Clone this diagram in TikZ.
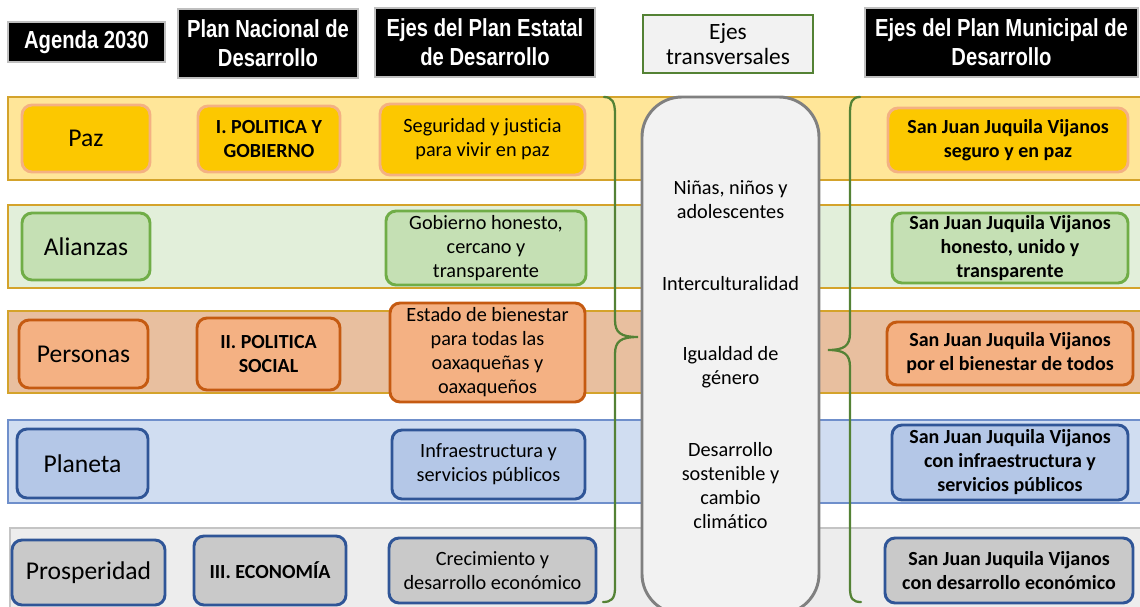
\documentclass[tikz,border=0pt]{standalone}
\usepackage{fontspec}
\setmainfont[Ligatures={NoCommon}]{Carlito}
\newfontfamily\hdrfont[FakeStretch=0.82]{Liberation Sans}
\definecolor{hdrline}{HTML}{BFBFBF}
\definecolor{bandline}{HTML}{D4A32B}
\definecolor{bandYf}{HTML}{FFE699}
\definecolor{boxYf}{HTML}{FCC800}
\definecolor{boxYd}{HTML}{F4B183}
\definecolor{bandGf}{HTML}{E2EFDA}
\definecolor{boxGf}{HTML}{C5E0B4}
\definecolor{boxGd}{HTML}{70AD47}
\definecolor{bandOf}{HTML}{E8BF9F}
\definecolor{boxOf}{HTML}{F4B183}
\definecolor{boxOd}{HTML}{C55A11}
\definecolor{bandBf}{HTML}{D0DDF1}
\definecolor{bandBd}{HTML}{6F8FCB}
\definecolor{boxBf}{HTML}{B4C7E7}
\definecolor{boxBd}{HTML}{2F5597}
\definecolor{bandKf}{HTML}{EDEDED}
\definecolor{bandKd}{HTML}{C4C4C4}
\definecolor{boxKf}{HTML}{C9C9C9}
\definecolor{centf}{HTML}{F2F2F2}
\definecolor{centd}{HTML}{808080}
\definecolor{bracec}{HTML}{548235}
\tikzset{
  wh/.style 2 args={minimum width=#1*0.75pt, minimum height=#2*0.75pt},
  hdr/.style={fill=black, draw=hdrline, line width=1.6pt, text=white, inner sep=0pt, align=center,
    font=\hdrfont\bfseries\fontsize{18.5}{21.7}\selectfont},
  box/.style={rounded corners=7.5pt, line width=2.2pt, inner sep=0pt, align=center,
    font=\fontsize{15.2}{18}\selectfont},
  lbl/.style={box, font=\fontsize{19.2}{22}\selectfont},
  bld/.style={box, font=\bfseries\fontsize{15}{18}\selectfont},
  yel/.style={fill=boxYf, draw=boxYd},
  grn/.style={fill=boxGf, draw=boxGd},
  org/.style={fill=boxOf, draw=boxOd},
  blu/.style={fill=boxBf, draw=boxBd},
  gry/.style={fill=boxKf, draw=boxBd},
  band/.style={line width=0.9pt},
  ctext/.style={inner sep=0pt, align=center, font=\fontsize{15.2}{18}\selectfont},
  bracepath/.style={draw=bracec, line width=1.7pt, line cap=round}
}
\begin{document}
\begin{tikzpicture}[x=0.75pt,y=-0.75pt]
\useasboundingbox (0,0) rectangle (1140,607);
\begin{scope}
\clip (0,0) rectangle (1140,607);
% bands
\path[band, fill=bandYf, draw=bandline] (8,97) rectangle (1150,180);
\path[band, fill=bandGf, draw=bandline] (8,205) rectangle (1150,288);
\path[band, fill=bandOf, draw=bandline] (8,311) rectangle (1150,393);
\path[band, fill=bandBf, draw=bandBd] (8,420) rectangle (1150,503);
\path[band, fill=bandKf, draw=bandKd] (10,528) rectangle (1150,620);
% central column
\node[fill=centf, draw=centd, line width=2.2pt, rounded corners=30pt, wh={177}{517}, inner sep=0pt] (ejes) at (730.5,355.5) {};
\end{scope}

% headers
\node[hdr, wh={157}{40}] (h1) at (86.5,42) {Agenda 2030};
\node[hdr, wh={180}{69}] (h2) at (268,43.5) {Plan Nacional de\\Desarrollo};
\node[hdr, wh={220}{69}] (h3) at (485,42.5) {Ejes del Plan Estatal\\de Desarrollo};
\node[fill=centf, draw=bracec, line width=1.8pt, inner sep=0pt, align=center, wh={170}{58},
  font=\fontsize{17.5}{19}\selectfont] (h4) at (728,44) {Ejes\\transversales};
\node[hdr, wh={273}{69}] (h5) at (1001.5,42.5) {Ejes del Plan Municipal de\\Desarrollo};

% row 1
\node[lbl, yel, wh={128}{67}] (paz) at (86,138.5) {Paz};
\node[bld, yel, wh={142}{66}] (pnd1) at (269,139) {I. POLITICA Y\\GOBIERNO};
\node[box, yel, wh={205}{71}] (pe1) at (482.5,139.5) {Seguridad y justicia\\para vivir en paz};
\node[bld, yel, wh={240}{64}] (pm1) at (1008,140) {San Juan Juquila Vijanos\\seguro y en paz};
% row 2
\node[lbl, grn, wh={128}{67}] (ali) at (86,246.5) {Alianzas};
\node[box, grn, wh={200}{74}] (pe2) at (486,248) {Gobierno honesto,\\cercano y\\transparente};
\node[bld, grn, wh={236}{70}] (pm2) at (1010,248) {San Juan Juquila Vijanos\\honesto, unido y\\transparente};
% row 3
\node[lbl, org, wh={129}{68}] (per) at (83.5,354) {Personas};
\node[bld, org, wh={143}{72}] (pnd2) at (268.5,354) {II. POLITICA\\SOCIAL};
\node[box, org, wh={195}{99}] (pe3) at (487.5,352.5) {Estado de bienestar\\para todas las\\oaxaqueñas y\\oaxaqueños};
\node[bld, org, wh={246}{63}] (pm3) at (1010,353.5) {San Juan Juquila Vijanos\\por el bienestar de todos};
% row 4
\node[lbl, blu, wh={131}{69}] (pla) at (82.5,463.5) {Planeta};
\node[box, blu, wh={193}{69}] (pe4) at (488.5,464.5) {Infraestructura y\\servicios públicos};
\node[bld, blu, wh={236}{75}] (pm4) at (1010,462.5) {San Juan Juquila Vijanos\\con infraestructura y\\servicios públicos};
% row 5
\node[lbl, gry, wh={153}{65}] (pro) at (88.5,572.5) {Prosperidad};
\node[bld, gry, wh={152}{69}] (pnd3) at (270,570.5) {III. ECONOMÍA};
\node[box, gry, wh={207}{65}] (pe5) at (492.5,570.5) {Crecimiento y\\desarrollo económico};
\node[bld, gry, wh={248}{65}] (pm5) at (1009,570.5) {San Juan Juquila Vijanos\\con desarrollo económico};

% transversal axes texts
\node[ctext] (t1) at (730.5,200) {Niñas, niños y\\adolescentes};
\node[ctext] (t2) at (730.5,284) {Interculturalidad};
\node[ctext] (t3) at (730.5,367) {Igualdad de\\género};
\node[ctext] (t4) at (730.5,486) {Desarrollo\\sostenible y\\cambio\\climático};

% braces
\draw[bracepath] (604,97) .. controls (612,97) and (615,102) .. (615,114)
  -- (615,320) .. controls (615,333) and (621,337) .. (638,337)
  .. controls (621,337) and (615,341) .. (615,354)
  -- (615,588) .. controls (615,599) and (611,602) .. (603,602);
\draw[bracepath] (860,97) .. controls (852,97) and (850,102) .. (850,114)
  -- (850,333) .. controls (850,346) and (844,350) .. (828,350)
  .. controls (844,350) and (850,354) .. (850,367)
  -- (850,588) .. controls (850,599) and (853,602) .. (861,602);
\end{tikzpicture}
\end{document}
